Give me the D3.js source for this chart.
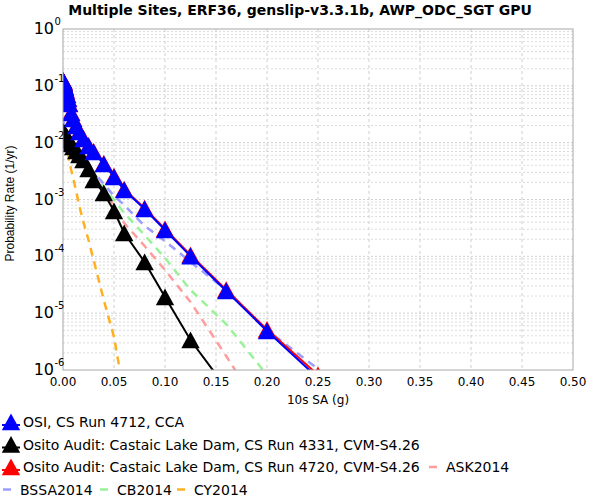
<!DOCTYPE html>
<html><head><meta charset="utf-8">
<script src="https://cdn.jsdelivr.net/npm/d3@7"></script>
<style>body{margin:0;background:#fff} svg{display:block} text{font-family:"DejaVu Sans",sans-serif;fill:#000}</style>
</head><body><svg id="c" width="600" height="500"></svg>
<script>
// ---- data ----
const xValues = [0.0001,0.00013,0.00016,0.0002,0.00025,0.0003,0.0004,0.0005,0.0006,0.0008,
  0.001,0.0013,0.0016,0.002,0.0025,0.003,0.004,0.005,0.006,0.008,
  0.01,0.013,0.016,0.02,0.025,0.03,0.04,0.05,0.06,0.08,0.1,0.125,0.16,0.2,0.25];
const osi4712 = [0.1216,0.1216,0.1216,0.1192,0.1168,0.1168,0.1145,0.1122,0.1099,0.1077,
  0.1034,0.0993,0.0954,0.0916,0.0845,0.0779,0.0690,0.0587,0.0479,0.0333,
  0.0261,0.0196,0.0154,0.0116,0.00874,0.00685,0.00421,0.00249,0.00147,6.81e-4,2.91e-4,1.01e-4,2.45e-5,4.86e-6,7.2e-7];
const osito4331 = [0.01541,0.01541,0.01541,0.01541,0.0151,0.0151,0.0151,0.01479,0.01479,0.01479,
  0.01479,0.01449,0.0142,0.01391,0.01364,0.0131,0.01258,0.0116,0.0107,0.00947,
  0.00839,0.00714,0.00607,0.00495,0.00344,0.0022,0.0013,6.27e-4,2.57e-4,7.95e-5,1.93e-5,3.37e-6,4.82e-7,5.9e-8,5.2e-9];
const osito4720 = [0.1240,0.1240,0.1240,0.1215,0.1190,0.1190,0.1167,0.1143,0.1120,0.1098,
  0.1054,0.1012,0.0972,0.0934,0.0861,0.0794,0.0703,0.0598,0.0489,0.0340,
  0.0267,0.0200,0.0157,0.0119,0.00893,0.0070,0.00431,0.00256,0.00152,7.05e-4,3.02e-4,1.06e-4,2.58e-5,5.15e-6,8.2e-7];
const ask2014 = [0.01886,0.01886,0.01848,0.01811,0.01775,0.01739,0.01704,0.0167,0.01636,0.01604,
  0.01572,0.01541,0.0151,0.01479,0.0142,0.01364,0.01258,0.0116,0.0107,0.0091,
  0.00806,0.00658,0.00537,0.00421,0.00317,0.00239,0.00141,7.68e-4,3.86e-4,1.52e-4,5.74e-5,1.57e-5,1.76e-6,1.32e-7,8e-9];
const bssa2014 = [0.02716,0.02716,0.02661,0.02607,0.02555,0.02506,0.02405,0.02357,0.0231,0.02218,
  0.0213,0.02046,0.0196,0.01886,0.01775,0.0167,0.0151,0.01364,0.01258,0.01092,
  0.00947,0.00774,0.00632,0.00495,0.00388,0.00305,0.00187,0.00115,8.0e-4,3.42e-4,1.86e-4,7.95e-5,2.56e-5,5.05e-6,1.04e-6];
const cb2014 = [0.0196,0.0196,0.0192,0.01886,0.01848,0.01811,0.01775,0.01739,0.01704,0.0167,
  0.01636,0.01604,0.01572,0.01541,0.01479,0.0142,0.01337,0.01258,0.0116,0.01027,
  0.0091,0.00743,0.00607,0.00495,0.00373,0.00281,0.00166,9.8e-4,5.78e-4,2.37e-4,9.34e-5,2.56e-5,6.45e-6,8.16e-7,5.86e-8];
const cy2014 = [0.02046,0.02046,0.02004,0.0196,0.0192,0.01886,0.01811,0.01739,0.0167,0.01572,
  0.01479,0.01391,0.0131,0.0121,0.01092,0.00987,0.00806,0.00632,0.00495,0.0033,
  0.00239,0.00136,7.68e-4,4.02e-4,1.94e-4,8.62e-5,1.7e-5,3.81e-6,3.63e-7,1e-8,3e-10,5e-12,1e-14,1e-16,1e-18];
const xTicks = [0,0.05,0.1,0.15,0.2,0.25,0.3,0.35,0.4,0.45,0.5];
const yDecades = [0,-1,-2,-3,-4,-5,-6];
const titleText = "Multiple Sites, ERF36, genslip-v3.3.1b, AWP_ODC_SGT GPU";
const xLabel = "10s SA (g)";
const yLabel = "Probability Rate (1/yr)";
const csNames = ["OSI, CS Run 4712, CCA","Osito Audit: Castaic Lake Dam, CS Run 4331, CVM-S4.26","Osito Audit: Castaic Lake Dam, CS Run 4720, CVM-S4.26"];
const gmpeNames = ["ASK2014","BSSA2014","CB2014","CY2014"];

// ---- drawing ----
const svg = d3.select("#c");
const L = 63, R = 573, T = 29, B = 370;
const x = d3.scaleLinear().domain([0,0.5]).range([L,R]);
const y = d3.scaleLog().domain([1e-6,1]).range([B,T]);

svg.append("defs").append("clipPath").attr("id","clip")
  .append("rect").attr("x",L).attr("y",T).attr("width",R-L).attr("height",B-T);

// grid
const g = svg.append("g");
const minor = [];
for (let e=-6;e<0;e++) for (let m=2;m<=9;m++) minor.push(m*Math.pow(10,e));
g.selectAll(".mn").data(minor).join("line")
  .attr("x1",L).attr("x2",R).attr("y1",d=>y(d)).attr("y2",d=>y(d))
  .attr("stroke","#dcdcdc").attr("stroke-width",1).attr("stroke-dasharray","2,2");
g.selectAll(".mj").data(yDecades.slice(1,6)).join("line")
  .attr("x1",L).attr("x2",R).attr("y1",d=>y(Math.pow(10,d))).attr("y2",d=>y(Math.pow(10,d)))
  .attr("stroke","#cfcfcf").attr("stroke-width",1).attr("stroke-dasharray","2,2");
g.selectAll(".vx").data(xTicks.slice(1,10)).join("line")
  .attr("x1",d=>x(d)).attr("x2",d=>x(d)).attr("y1",T).attr("y2",B)
  .attr("stroke","#cfcfcf").attr("stroke-width",1).attr("stroke-dasharray","3,3");

const plot = svg.append("g").attr("clip-path","url(#clip)");
const line = d3.line().x(d=>x(d[0])).y(d=>y(d[1]));
const zip = arr => xValues.map((v,i)=>[v,arr[i]]);

const gmpe = [
  {vals:cy2014,color:"#ffb020"},
  {vals:cb2014,color:"#99f299"},
  {vals:bssa2014,color:"#9d9dff"},
  {vals:ask2014,color:"#ff9c9c"}
];
gmpe.forEach(s=>{
  plot.append("path").attr("d",line(zip(s.vals))).attr("fill","none")
    .attr("stroke",s.color).attr("stroke-width",2.5).attr("stroke-dasharray","8,6");
});
const tri = (cx,cy)=>`M${cx},${cy-8.5}L${cx+9.2},${cy+8.3}L${cx-9.2},${cy+8.3}Z`;
const cs = [
  {vals:osito4720,color:"#ff0000"},
  {vals:osito4331,color:"#000000"},
  {vals:osi4712,color:"#0000ff"}
];
cs.forEach(s=>{
  const pts = zip(s.vals);
  plot.append("path").attr("d",line(pts)).attr("fill","none")
    .attr("stroke",s.color).attr("stroke-width",2);
  plot.selectAll(null).data(pts).join("path")
    .attr("d",d=>tri(x(d[0]),y(d[1]))).attr("fill",s.color);
});

// frame
svg.append("rect").attr("x",L).attr("y",T).attr("width",R-L).attr("height",B-T)
  .attr("fill","none").attr("stroke","#a8a8a8").attr("stroke-width",1);

// x ticks
svg.selectAll(".xt").data(xTicks).join("text")
  .attr("x",d=>x(d)).attr("y",386).attr("text-anchor","middle").attr("font-size",12)
  .text(d=>d.toFixed(2));
svg.append("text").attr("x",(L+R)/2).attr("y",404).attr("text-anchor","middle")
  .attr("font-size",12).text(xLabel);

// y ticks
yDecades.forEach(e=>{
  const yy = y(Math.pow(10,e));
  svg.append("text").attr("x",54).attr("y",yy+5).attr("text-anchor","end")
    .attr("font-size",16).text("10");
  svg.append("text").attr("x",54.5).attr("y",yy-4).attr("font-size",10)
    .text(e===0?"0":"-"+(-e));
});
svg.append("text").attr("transform",`translate(14,${(T+B)/2+4}) rotate(-90)`)
  .attr("text-anchor","middle").attr("font-size",12)
  .style("font-family","'Liberation Sans',Arial,sans-serif").text(yLabel);

// title
svg.append("text").attr("x",300).attr("y",15).attr("text-anchor","middle")
  .attr("font-size",14).attr("font-weight","bold").text(titleText);

// legend
const lg = svg.append("g");
const rowY = [422,444.5,467,489.5];
const csColors = ["#0000ff","#000000","#ff0000"];
csNames.forEach((n,i)=>{
  const yy=rowY[i];
  lg.append("line").attr("x1",2).attr("x2",20).attr("y1",yy+3).attr("y2",yy+3)
    .attr("stroke",csColors[i]).attr("stroke-width",2);
  lg.append("path").attr("d",tri(11,yy)).attr("fill",csColors[i]);
  lg.append("text").attr("x",23).attr("y",yy+5).attr("font-size",14).text(n);
});
const gmpeLegend = [
  {name:gmpeNames[0],color:"#ff9c9c",x:428,row:2},
  {name:gmpeNames[1],color:"#9d9dff",x:2,row:3},
  {name:gmpeNames[2],color:"#99f299",x:99,row:3},
  {name:gmpeNames[3],color:"#ffb020",x:176,row:3}
];
gmpeLegend.forEach(d=>{
  const yy=rowY[d.row];
  lg.append("line").attr("x1",d.x+1).attr("x2",d.x+9).attr("y1",yy).attr("y2",yy)
    .attr("stroke",d.color).attr("stroke-width",2.5);
  lg.append("text").attr("x",d.x+18).attr("y",yy+5).attr("font-size",14).text(d.name);
});
</script></body></html>
